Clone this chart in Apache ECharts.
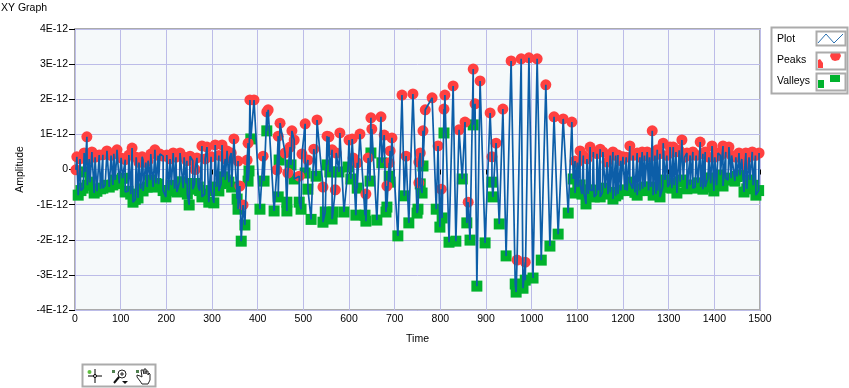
<!DOCTYPE html>
<html><head><meta charset="utf-8">
<style>html,body{margin:0;padding:0;background:#fff}#c{width:849px;height:388px}</style>
<script src="https://cdn.jsdelivr.net/npm/echarts@6/dist/echarts.min.js"></script>
</head><body><div id="c"></div>
<script>
const peakX=[2,4,11,20,26,31,37,44,53,61,70,79,85,92,101,110,118,125,134,140,147,149,155,160,166,175,182,186,193,201,208,215,221,230,239,245,252,258,263,267,278,285,289,298,307,315,322,329,333,339,342,348,357,361,368,377,379,383,392,412,420,423,442,445,449,460,466,471,475,480,491,497,504,510,523,530,543,552,556,563,570,572,580,600,607,609,618,624,637,642,648,650,670,677,683,688,690,694,716,725,740,753,753,756,762,767,782,795,802,808,810,828,841,854,861,872,876,887,909,913,922,937,955,968,977,986,994,1012,1031,1049,1069,1088,1095,1100,1106,1113,1121,1128,1135,1143,1150,1156,1165,1172,1178,1184,1189,1195,1200,1207,1215,1222,1231,1237,1242,1247,1253,1258,1264,1270,1275,1281,1288,1296,1303,1310,1316,1323,1329,1335,1340,1347,1353,1360,1369,1375,1380,1388,1395,1401,1408,1413,1419,1425,1432,1438,1447,1454,1460,1467,1469,1476,1483,1490,1498];
const peakY=[-0.01,0.36,0.3,0.47,0.93,0.3,0.5,0.35,0.41,0.42,0.53,0.4,0.45,0.56,0.33,0.28,0.41,0.61,0.35,0.2,0.36,0.27,0.2,0.25,0.44,0.56,0.4,0.44,0.38,0.41,0.3,0.47,0.35,0.47,0.35,0.25,0.38,0.25,0,0.33,0.67,0.3,0.64,0.36,0.7,0.4,0.7,0.3,0.53,0.35,0.47,0.87,0.24,-0.47,-1.01,0.27,0.75,1.98,1.98,0.38,1.64,1.7,-0.01,0.95,1.32,0.47,-0.1,0.64,1.1,0.84,-0.19,0.44,1.3,0.27,0.58,1.41,-0.5,0.95,0.93,0.56,-0.58,0.47,1.04,0.84,0.87,0.33,0.19,1.01,-0.7,0.33,1.47,1.15,1.5,0.98,-0.47,0.19,0.53,0.9,2.12,0.38,2.15,-0.38,0.21,0.47,1.1,1.7,2.04,0.67,-0.56,1.72,2.12,2.38,1.13,1.35,-0.93,2.86,1.87,2.52,1.61,0.36,0.75,1.72,3.09,-2.58,3.15,-2.64,3.18,3.15,2.41,1.5,1.44,1.35,0.24,0.2,0.53,0.4,0.3,0.64,0.5,0.45,0.58,0.5,0.21,0.4,0.5,0.4,0.41,0.25,0.36,0.35,0.67,0.4,0.47,0.35,0.5,0.4,0.5,0.35,1.1,0.4,0.56,0.45,0.75,0.4,0.64,0.64,0.5,0.55,0.84,0.35,0.47,0.4,0.5,0.4,0.78,0.45,0.5,0.35,0.67,0.35,0.47,0.4,0.67,0.5,0.64,0.4,0.35,0.47,0.3,0.13,0.47,0.35,0.5,0.4,0.47];
const valleyX=[7,13,18,22,27,33,42,48,56,61,66,75,83,88,97,104,110,116,122,127,132,138,144,149,158,165,171,177,183,193,199,205,211,218,223,229,237,243,246,250,258,262,270,273,278,284,293,298,304,310,315,320,324,329,337,343,355,357,364,372,379,381,385,405,414,420,436,445,447,464,464,473,480,491,495,504,510,517,528,543,548,552,558,563,565,578,589,598,604,618,615,635,637,646,648,661,672,681,683,688,690,707,721,731,749,751,756,760,762,791,799,804,808,819,834,848,858,865,872,880,898,913,915,929,944,964,966,981,986,1003,1021,1040,1058,1080,1091,1095,1101,1106,1110,1114,1119,1124,1128,1133,1137,1142,1146,1150,1155,1161,1167,1172,1178,1184,1189,1195,1204,1209,1215,1221,1226,1231,1237,1243,1248,1256,1261,1266,1272,1276,1281,1287,1292,1298,1302,1307,1312,1318,1325,1332,1340,1347,1353,1358,1364,1370,1375,1380,1386,1392,1399,1405,1413,1419,1425,1430,1437,1445,1450,1456,1465,1471,1478,1485,1491,1497];
const valleyY=[-0.73,-0.6,-0.53,-0.07,-0.45,-0.36,-0.67,-0.62,-0.55,-0.53,-0.45,-0.5,-0.44,-0.3,-0.4,-0.25,-0.64,-0.62,-0.7,-0.93,-0.85,-0.81,-0.55,-0.61,-0.5,-0.3,-0.5,-0.4,-0.42,-0.6,-0.78,-0.6,-0.45,-0.55,-0.64,-0.35,-0.53,-0.4,-0.7,-1.01,-0.56,-0.4,-0.5,-0.6,-0.78,-0.7,-0.93,-0.6,-0.95,-0.5,-0.61,-0.4,-0.21,-0.3,-0.36,-0.5,-0.84,-1.13,-2.04,-1.58,-0.33,-0.04,0.87,-1.13,-0.33,1.1,-1.18,-0.78,0.27,-1.18,-0.93,0.13,-0.27,-0.93,-1.13,-0.1,-0.56,-1.42,-0.19,-1.5,-1.21,0.13,-0.07,-1.41,-1.21,-0.07,-1.21,0.07,-0.27,-0.53,-1.3,-1.3,-1.47,-0.33,0.47,-1.44,0.19,-1.21,-1.07,-0.19,-0.36,-1.89,-0.75,-1.52,-1.24,-1.13,-0.41,-0.67,0.1,-1.13,-1.64,-1.38,1.04,-2.07,-2.04,-0.27,-1.52,-2.01,1.27,-3.32,-2.09,-0.36,-0.78,-1.55,-2.46,-3.26,-3.49,-3.38,-3.15,-3.09,-2.58,-2.18,-1.84,-1.24,-0.27,-0.67,-0.5,-0.44,-0.7,-0.65,-0.98,-0.7,-0.58,-0.6,-0.78,-0.7,-0.6,-0.78,-0.65,-0.53,-0.7,-0.65,-0.84,-0.75,-0.7,-0.6,-0.58,-0.6,-0.36,-0.55,-0.65,-0.73,-0.6,-0.55,-0.5,-0.6,-0.5,-0.73,-0.7,-0.6,-0.78,-0.5,-0.3,-0.5,-0.4,-0.53,-0.45,-0.67,-0.35,-0.3,-0.55,-0.44,-0.53,-0.5,-0.38,-0.5,-0.56,-0.5,-0.24,-0.4,-0.61,-0.45,-0.16,-0.47,-0.25,-0.3,-0.25,-0.33,-0.2,-0.16,-0.64,-0.55,-0.3,-0.45,-0.73,-0.6];
const xTickStep=100;
const yTickStep=1;
const title="XY Graph", xName="Time", yName="Amplitude";
const legendNames=["Plot","Peaks","Valleys"];

const zip=(a,b)=>a.map((v,i)=>[v,b[i]]);
const peaks=zip(peakX,peakY), valleys=zip(valleyX,valleyY);
const plot=peaks.concat(valleys).sort((p,q)=>p[0]-q[0]);
const FONT='"Liberation Sans",sans-serif', FS=10.5;
const GRAY='#ababab', BLUE='#0c5ea8', RED='#ff4040', GREEN='#00b22d';
const txt=(x,y,s)=>({type:'text',silent:true,x,y,style:{text:s,font:FS+'px '+FONT,fill:'#000',textVerticalAlign:'middle'}});
const box=(x,y,w,h,fill)=>({type:'rect',silent:true,shape:{x,y,width:w,height:h},style:{fill:fill||null,stroke:GRAY,lineWidth:2}});
const graphic=[
 txt(1,8,title),
 box(771.5,27.5,76,66,'#fff'),
 txt(777,39,legendNames[0]),txt(777,60,legendNames[1]),txt(777,81,legendNames[2]),
 {type:'polyline',silent:true,shape:{points:[[818,43],[826,34],[834,43],[843,34]]},style:{stroke:'#2a70b0',lineWidth:1,fill:null}},
 {type:'polygon',silent:true,shape:{points:[[831,53],[840,53],[841,56],[839,60],[835,61],[832,60],[830,56]]},style:{fill:RED}},
 {type:'polygon',silent:true,shape:{points:[[818,68],[818,60],[820,59],[823,63],[823,68]]},style:{fill:RED}},
 {type:'rect',silent:true,shape:{x:830,y:75,width:10,height:7},style:{fill:GREEN}},
 {type:'rect',silent:true,shape:{x:818,y:80,width:6,height:8},style:{fill:GREEN}},
 box(816.5,31.5,29,14),box(816.5,52.5,29,17),box(816.5,73.5,29,17),
 box(82.5,364.5,73,22,'#fff'),
 {type:'circle',silent:true,shape:{cx:89.5,cy:372,r:2},style:{fill:'#5fbf3f'}},
 {type:'line',silent:true,shape:{x1:88,y1:376,x2:102,y2:376},style:{stroke:'#000',lineWidth:1}},
 {type:'line',silent:true,shape:{x1:95,y1:369,x2:95,y2:383},style:{stroke:'#000',lineWidth:1}},
 {type:'circle',silent:true,shape:{cx:95,cy:376,r:1.5},style:{fill:'#fff',stroke:'#000'}},
 {type:'rect',silent:true,shape:{x:112,y:370,width:3,height:3},style:{fill:'#4f7f4f'}},
 {type:'circle',silent:true,shape:{cx:122,cy:374,r:4},style:{fill:'#fff',stroke:'#222',lineWidth:1}},
 {type:'line',silent:true,shape:{x1:119,y1:377,x2:114,y2:383},style:{stroke:'#111',lineWidth:2}},
 {type:'line',silent:true,shape:{x1:120,y1:374,x2:124,y2:374},style:{stroke:'#222',lineWidth:1}},
 {type:'line',silent:true,shape:{x1:122,y1:372,x2:122,y2:376},style:{stroke:'#222',lineWidth:1}},
 {type:'polygon',silent:true,shape:{points:[[122,381],[128,381],[125,384]]},style:{fill:'#111'}},
 {type:'rect',silent:true,shape:{x:136,y:370,width:3,height:3},style:{fill:'#4f7f4f'}},
 {type:'polyline',silent:true,shape:{points:[[137,377],[140,381],[142,384],[148,384],[150,380],[150,374],[149,373],[148,375],[148,371],[146,371],[146,374],[146,369],[144,369],[144,374],[143,370],[141,370],[142,377],[140,376],[137,375],[137,377]]},style:{stroke:'#222',lineWidth:1,fill:'#fff'}}
];
const tickStyle={color:'#000',fontFamily:FONT,fontSize:FS};
const option={
 animation:false,
 grid:{left:75,top:29,width:685,height:281,show:true,backgroundColor:'#f5f9fa',borderColor:GRAY,borderWidth:2,containLabel:false},
 xAxis:{type:'value',min:0,max:1500,interval:xTickStep,offset:2,
  name:xName,nameLocation:'middle',nameGap:22,nameTextStyle:tickStyle,
  axisLine:{show:false},axisTick:{show:true,length:5,lineStyle:{color:'#000',width:1}},
  axisLabel:Object.assign({margin:2,hideOverlap:false,showMinLabel:true,showMaxLabel:true,formatter:v=>String(v)},tickStyle),
  splitLine:{show:true,lineStyle:{color:'#bcbce8',width:1}}},
 yAxis:{type:'value',min:-4,max:4,interval:yTickStep,offset:6,
  name:yName,nameLocation:'middle',nameGap:43,nameRotate:90,nameTextStyle:tickStyle,
  axisLine:{show:false},axisTick:{show:true,length:6,lineStyle:{color:'#000',width:1}},
  axisLabel:Object.assign({margin:1,formatter:v=>v===0?'0':v+'E-12'},tickStyle),
  splitLine:{show:true,lineStyle:{color:'#bcbce8',width:1}}},
 series:[
  {name:legendNames[2],type:'scatter',data:valleys,symbol:'rect',symbolSize:11,itemStyle:{color:GREEN,opacity:1},z:2},
  {name:legendNames[1],type:'scatter',data:peaks,symbol:'circle',symbolSize:11,itemStyle:{color:RED,opacity:1},z:3},
  {name:legendNames[0],type:'line',data:plot,showSymbol:false,symbol:'none',lineStyle:{color:BLUE,width:1.7},z:4}
 ],
 graphic
};
echarts.init(document.getElementById('c'),null,{renderer:'canvas'}).setOption(option);
</script></body></html>
